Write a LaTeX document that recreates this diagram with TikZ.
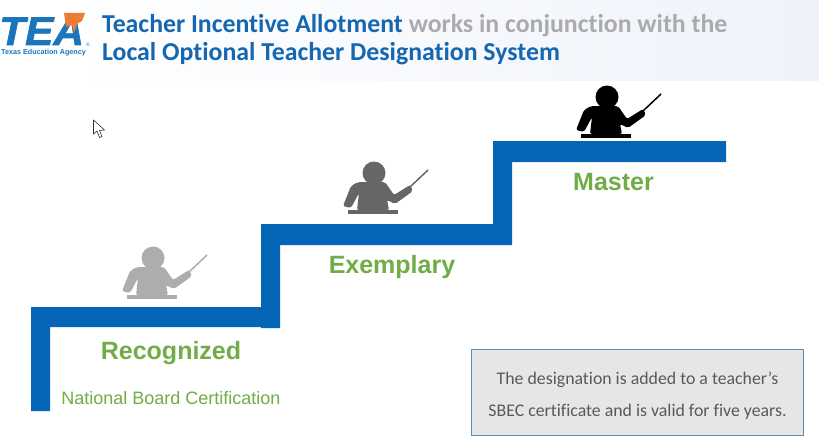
\documentclass[tikz,border=0pt]{standalone}
\usepackage{fontspec}
\setmainfont{Liberation Sans}
\newfontfamily\carl[Ligatures=NoCommon]{Carlito}
\definecolor{stairblue}{HTML}{0566B8}
\definecolor{titleblue}{HTML}{1467B0}
\definecolor{titlegray}{HTML}{ABABAB}
\definecolor{lblgreen}{HTML}{70AD47}
\definecolor{orng}{HTML}{ED7D31}
\definecolor{logoblue}{HTML}{1B75BC}
\definecolor{bandblue}{HTML}{EEF2FA}
\definecolor{boxedge}{HTML}{5B8DB8}
\definecolor{boxfill}{HTML}{E7E6E6}
\definecolor{boxtext}{HTML}{595959}
\newcommand{\teacher}[3]{%
\begin{scope}[shift={(#1,#2)},x=1pt,y=-1pt]
\fill[#3] (0,0) circle[radius=11.5];
\fill[#3,rounded corners=2pt] (-16,9) -- (11,9) -- (20,22) -- (36,12) -- (39,18) -- (21,31) -- (13,27) -- (15,37) -- (-17,37) -- (-15,20) -- (-23,35) -- (-31,33) -- (-23,13) -- cycle;
\fill[#3] (-26,36.5) rectangle (24,40.5);
\draw[#3,line width=1.5pt] (36,14) -- (54,-3);
\end{scope}}
\begin{document}
\begin{tikzpicture}[x=1pt,y=-1pt,
 titletext/.style={font=\carl\bfseries\fontsize{25.8}{30}\selectfont,anchor=base west,inner sep=0},
 level/.style={font=\bfseries\fontsize{25}{30}\selectfont,text=lblgreen,inner sep=0},
 bodytext/.style={font=\carl\fontsize{17.8}{32}\selectfont,text=boxtext,align=center}]
\useasboundingbox (0,0) rectangle (819,444);
\fill[white] (0,0) rectangle (819,444);
% header band
\shade[left color=white,right color=bandblue] (60,0) rectangle (819,80);
% logo
\node[anchor=base west,inner sep=0,text=logoblue,xscale=1.06] (tea) at (-1,45) {\fontsize{40}{40}\selectfont\bfseries\itshape\addfontfeature{FakeBold=1.5}TEA};
\fill[orng] (64,13) -- (85,13) -- (82,21) -- (77,24) -- (74,33) -- (72,25) -- (66,27) -- cycle;
\node[anchor=base west,inner sep=0,text=logoblue] (agency) at (1,55) {\fontsize{7.2}{7}\selectfont\bfseries Texas Education Agency};
\node[anchor=base west,inner sep=0,text=logoblue] (reg) at (86,47) {\fontsize{5}{5}\selectfont ®};
% title
\node[titletext,text=titleblue] (t1) at (102,33) {Teacher Incentive Allotment \textcolor{titlegray}{works in conjunction with the}};
\node[titletext,text=titleblue] (t2) at (102,60) {Local Optional Teacher Designation System};
% cursor
\draw[black!80,fill=white,line width=.6pt,line join=round] (93.5,120) -- (93.5,134) -- (97,131) -- (99.5,137.5) -- (102,136.5) -- (99.5,130.5) -- (104.5,130) -- cycle;
% stairs
\fill[stairblue] (31,411) -- (31,307) -- (261,307) -- (261,224) -- (493,224) -- (493,141) -- (726,141) -- (726,162) -- (512,162) -- (512,245) -- (493,245) -- (280,245) -- (280,328) -- (261,328) -- (261,327) -- (50,327) -- (50,411) -- cycle;
% people
\teacher{153}{258}{black!32}
\teacher{374}{173}{black!60}
\teacher{607}{97}{black}
% labels
\node[level] (m) at (613.5,182) {Master};
\node[level] (e) at (392,267) {Exemplary};
\node[level] (r) at (171,353.5) {Recognized};
\node[inner sep=0,text=lblgreen,font=\fontsize{18}{22}\selectfont] (n) at (171,398) {National Board Certification};
% box
\node[draw=boxedge,fill=boxfill,line width=.8pt,minimum width=332pt,minimum height=86pt,inner sep=0,anchor=north west] (b) at (471,349) {};
\node[bodytext,inner sep=0] (bt) at (637.5,395.5) {The designation is added to a teacher’s\\SBEC certificate and is valid for five years.};
\end{tikzpicture}
\end{document}
